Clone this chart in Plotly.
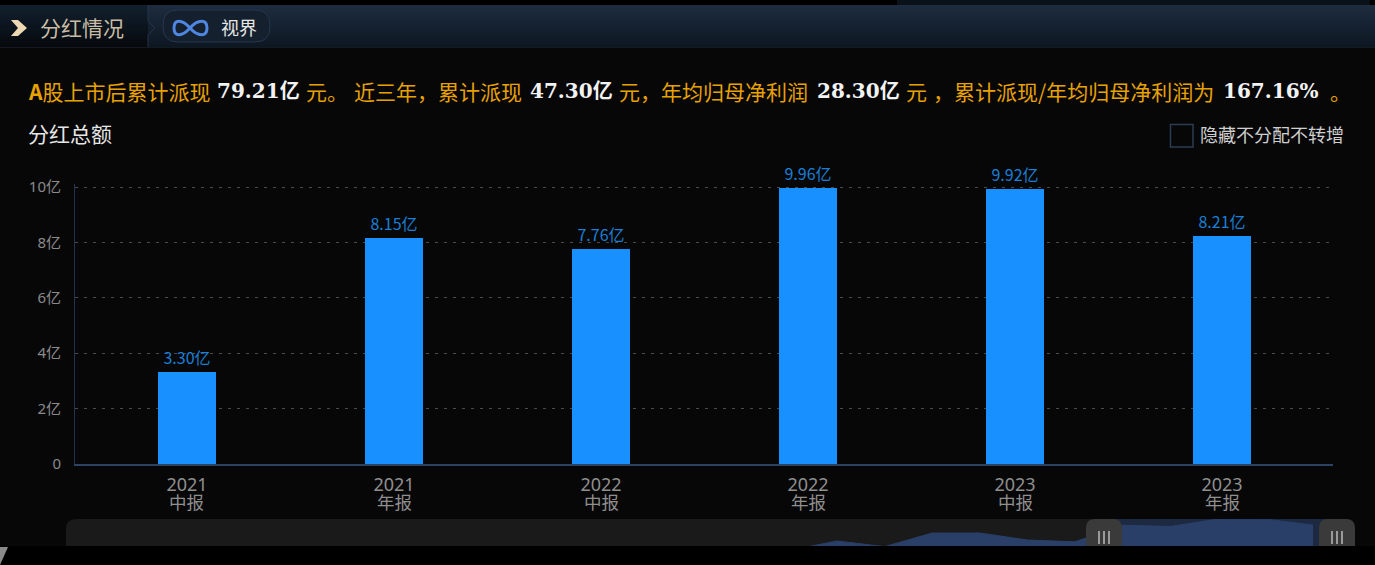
import plotly.graph_objects as go

W, H = 1375, 565
CJK = "Noto Sans CJK SC"

# ---- data ----
years = ["2021", "2021", "2022", "2022", "2023", "2023"]
periods = ["中报", "年报", "中报", "年报", "中报", "年报"]
dividends = [3.30, 8.15, 7.76, 9.96, 9.92, 8.21]
bar_labels = ["3.30亿", "8.15亿", "7.76亿", "9.96亿", "9.92亿", "8.21亿"]
y_tick_values = [0, 2, 4, 6, 8, 10]
y_tick_labels = ["0", "2亿", "4亿", "6亿", "8亿", "10亿"]
# overview strip of the slider (older reports first, estimated)
overview_values = [0.5, 0.8, 3.55, 1.9, 5.88, 5.88, 3.84, 3.30, 8.15, 7.76, 9.96, 9.92, 8.21]

GOLD = "#e8a200"
WHITE = "#f2f2f2"


def px(x):
    return x / W


def py(y):
    return 1 - y / H


def rect(x0, y0, x1, y1, fill, line=None, layer="below", lw=1):
    return dict(type="rect", xref="paper", yref="paper", x0=px(x0), x1=px(x1), y0=py(y0), y1=py(y1),
                fillcolor=fill, line=dict(color=line or "rgba(0,0,0,0)", width=lw if line else 0), layer=layer)


def path(points, fill=None, line=None, lw=1, layer="below", close=True):
    d = ""
    for cmd, coords in points:
        d += cmd + " ".join(f"{px(coords[i]):.5f},{py(coords[i + 1]):.5f}" for i in range(0, len(coords), 2)) + " "
    if close:
        d += "Z"
    return dict(type="path", xref="paper", yref="paper", path=d, fillcolor=fill or "rgba(0,0,0,0)",
                line=dict(color=line or "rgba(0,0,0,0)", width=lw if line else 0), layer=layer)


def rrect(x0, y0, x1, y1, r, fill=None, line=None, lw=1, layer="below", square_bottom=False):
    rb = 0 if square_bottom else r
    return path([("M", [x0 + r, y0]), ("L", [x1 - r, y0]), ("Q", [x1, y0, x1, y0 + r]),
                 ("L", [x1, y1 - rb]), ("Q", [x1, y1, x1 - rb, y1]), ("L", [x0 + rb, y1]),
                 ("Q", [x0, y1, x0, y1 - rb]), ("L", [x0, y0 + r]), ("Q", [x0, y0, x0 + r, y0])],
                fill, line, lw, layer)


def lerp(c0, c1, t):
    return "rgb(" + ",".join(str(round(a + (b - a) * t)) for a, b in zip(c0, c1)) + ")"


shapes = [
    rect(0, 0, W, H, "#000000"),
    rect(0, 47, W, 546, "#070708"),
    rect(897, 0, 1370, 5, "#0a1119"),
    path([("M", [0, 547]), ("L", [8, 547]), ("L", [0, 565])], fill="#8a8a8a"),
]
# header gradient
for i in range(42):
    t = i / 41
    shapes.append(rect(0, 5 + i, 148, 6 + i, lerp((17, 32, 46), (6, 9, 13), t)))
    shapes.append(rect(148, 5 + i, W, 6 + i, lerp((29, 44, 63), (13, 23, 34), t)))
shapes += [
    rect(0, 47, W, 48, "#131a24"),
    path([("M", [148, 5]), ("L", [148, 21]), ("L", [155, 28]), ("L", [148, 35]), ("L", [148, 47])],
         line="#25344a", lw=1, close=False),
    path([("M", [11, 20]), ("L", [18, 20]), ("L", [27, 28]), ("L", [18, 36]), ("L", [11, 36]), ("L", [18, 28])],
         fill="#ecd9b4"),
    rrect(163, 10, 270, 42, 15, fill="#15202f", line="#26374d", lw=1),
    path([("M", [190, 28]), ("C", [182, 19, 174, 19, 174, 28]), ("C", [174, 37, 182, 37, 190, 28]),
          ("C", [198, 19, 207, 19, 207, 28]), ("C", [207, 37, 198, 37, 190, 28])],
         line="#4f86e0", lw=3, close=False),
    rect(1170.5, 124.5, 1193, 147, "rgba(0,0,0,0)", line="#2b3d55", lw=1.5),
    # slider
    rrect(66, 519, 1355, 546, 10, fill="#1a1a1a", square_bottom=True),
    rect(1104, 519, 1337, 546, "#1c2941"),
]
for cx in (1104, 1337):
    shapes.append(rrect(cx - 18, 519, cx + 18, 546, 9, fill="#3a3a3a", layer="above", square_bottom=True))
    for dx in (-5, 0, 5):
        shapes.append(rect(cx + dx - 1, 531, cx + dx + 1, 544, "#9a9a9a", layer="above"))


def note(x, y, text, color, size, anchor="left", bold=False, family=CJK):
    t = f"<b>{text}</b>" if bold else text
    return dict(xref="paper", yref="paper", x=px(x - 2), y=py(y - 1.5), text=t, showarrow=False, xanchor=anchor,
                yanchor="middle", font=dict(color=color, size=size, family=family))


NUM = "DejaVu Serif, " + CJK
annotations = [
    note(40, 28, "分红情况", "#c9bda6", 21),
    note(221, 28, "视界", "#e6e6e6", 18),
    note(28, 92, "<b>A</b>股上市后累计派现", GOLD, 21),
    note(217, 93, "79.21亿", WHITE, 20, bold=True, family=NUM),
    note(306, 92, "元。", GOLD, 21),
    note(354, 92, "近三年，累计派现", GOLD, 21),
    note(530, 93, "47.30亿", WHITE, 20, bold=True, family=NUM),
    note(619, 92, "元，年均归母净利润", GOLD, 21),
    note(817, 93, "28.30亿", WHITE, 20, bold=True, family=NUM),
    note(906, 92, "元", GOLD, 21),
    note(933, 92, "，累计派现/年均归母净利润为", GOLD, 21),
    note(1223, 93, "167.16%", WHITE, 20, bold=True, family=NUM),
    note(1330, 92, "。", GOLD, 21),
    note(28, 134, "分红总额", "#e6e6e6", 21),
    note(1200, 136, "隐藏不分配不转增", "#cfcfcf", 18),
]
for i, p in enumerate(periods):
    annotations.append(dict(xref="x", yref="paper", x=i, y=py(501), text=p, showarrow=False, yanchor="middle",
                            font=dict(color="#8f8f8f", size=17.5, family=CJK)))

fig = go.Figure()
fig.add_trace(go.Bar(
    x=list(range(len(dividends))), y=dividends, width=58 / 207, marker=dict(color="#1890ff", line=dict(width=0)),
    text=bar_labels, textposition="outside", cliponaxis=False, textangle=0,
    textfont=dict(color="#1a7fd6", size=16, family=CJK), hoverinfo="skip", showlegend=False))
ov_x = list(range(len(overview_values)))
fig.add_trace(go.Scatter(
    x=ov_x, y=overview_values, xaxis="x2", yaxis="y2", mode="lines", fill="tozeroy",
    line=dict(color="#2a3f68", width=1), fillcolor="#2a3f68", hoverinfo="skip", showlegend=False))

last = len(overview_values) - 1
fig.update_layout(
    width=W, height=H, autosize=False, margin=dict(l=0, r=0, t=0, b=0, autoexpand=False),
    paper_bgcolor="#000000", plot_bgcolor="rgba(0,0,0,0)", bargap=0,
    shapes=shapes, annotations=annotations,
    xaxis=dict(domain=[px(75), px(1333)], range=[-0.541, 5.536], tickmode="array",
               tickvals=list(range(len(years))), ticktext=years, ticks="", showgrid=False, zeroline=False,
               showline=True, linecolor="#2c4263", linewidth=1.5, ticklabelstandoff=4,
               tickfont=dict(color="#8f8f8f", size=18, family="Noto Sans, " + CJK), fixedrange=True),
    yaxis=dict(domain=[py(464), py(184.23)], range=[0, 10.1], tickmode="array", tickvals=y_tick_values,
               ticktext=y_tick_labels, ticks="", showgrid=True, gridcolor="#4a4a4a",
               griddash="3px,6px", gridwidth=1, zeroline=False, showline=True, linecolor="#22324a",
               linewidth=1, ticklabelstandoff=10,
               tickfont=dict(color="#8a8a8a", size=15, family="Noto Sans, " + CJK), fixedrange=True),
    xaxis2=dict(domain=[px(66), px(1355)], anchor="y2", visible=False,
                range=[last - (1313 - 66) / 47.6, last + (1355 - 1313) / 47.6], fixedrange=True),
    yaxis2=dict(domain=[py(546), py(519)], anchor="x2", visible=False, range=[2.09, 9.96], fixedrange=True),
)
fig.write_html("out.html", config=dict(displayModeBar=False),
               post_script="document.body.style.margin='0';document.body.style.background='#000';")
